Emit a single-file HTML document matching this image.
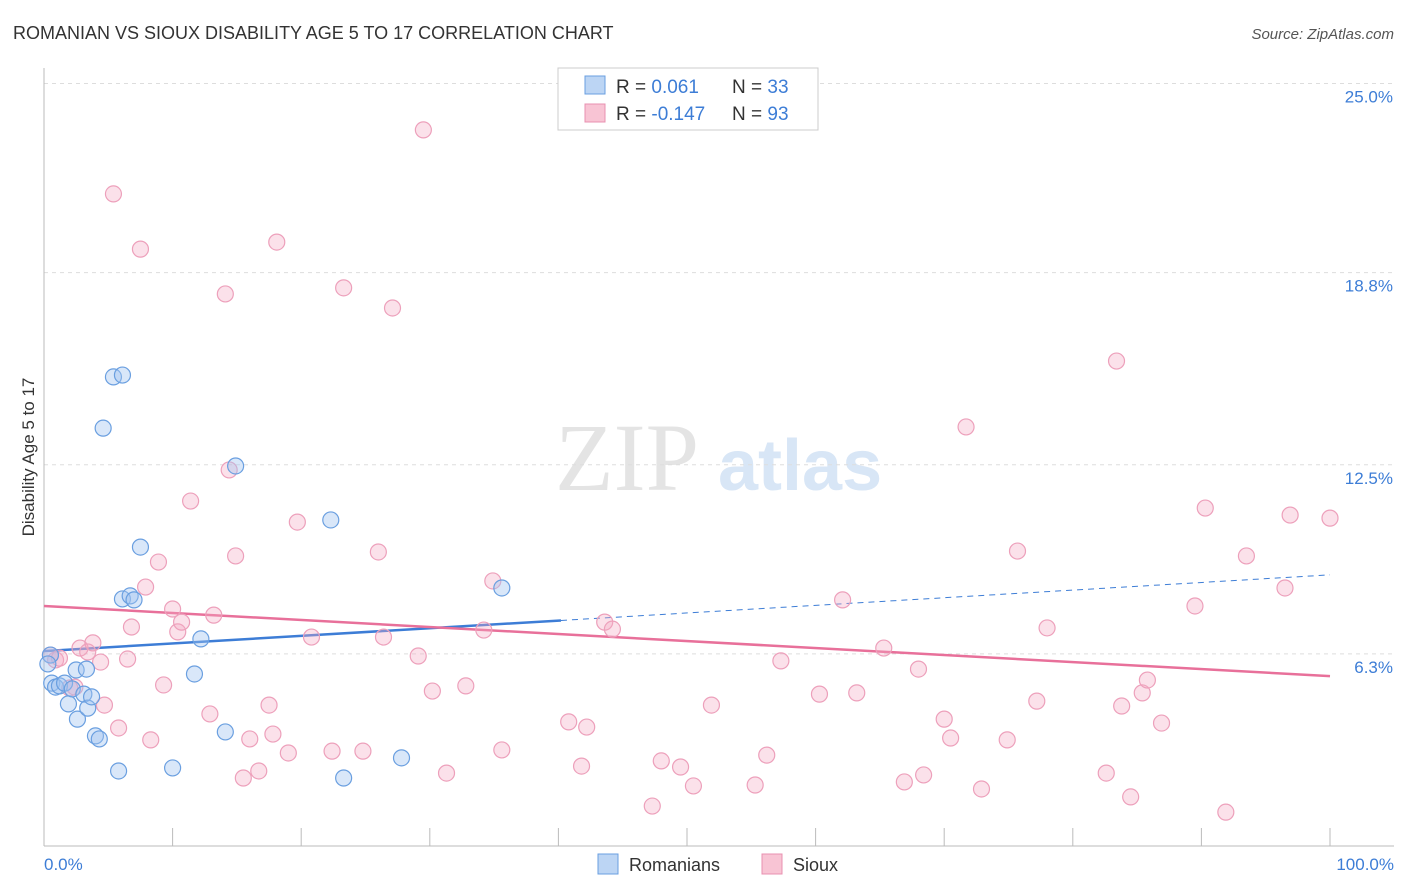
<!DOCTYPE html>
<html><head><meta charset="utf-8"><style>
body{margin:0;background:#fff;font-family:"Liberation Sans",sans-serif;}
#wrap{position:relative;width:1406px;height:892px;overflow:hidden;}
</style></head><body>
<div id="wrap">
<svg id="svg" width="1406" height="892" xmlns="http://www.w3.org/2000/svg">
<text x="13" y="39" font-size="18" fill="#333">ROMANIAN VS SIOUX DISABILITY AGE 5 TO 17 CORRELATION CHART</text>
<text x="1394" y="39" font-size="15" fill="#555" font-style="italic" text-anchor="end">Source: ZipAtlas.com</text>
<text x="555" y="490" font-size="96" fill="#e4e4e4" font-family="Liberation Serif">ZIP</text>
<text x="718" y="490" font-size="72" fill="#d8e6f6" font-weight="bold">atlas</text>
<text transform="translate(34,457) rotate(-90)" font-size="17" fill="#333" text-anchor="middle">Disability Age 5 to 17</text>
<g id="grid"></g><g id="axes"></g><g id="trend"></g><g id="pts"></g>
<g>
<rect x="558" y="68" width="260" height="62" fill="#fff" stroke="#ccc"/>
<rect x="585" y="76" width="20" height="18" fill="#bcd5f4" stroke="#6a9fe0"/>
<rect x="585" y="104" width="20" height="18" fill="#f8c4d4" stroke="#e890b0"/>
<text x="616" y="93" font-size="19" fill="#333">R = <tspan fill="#3d7dd6"> 0.061</tspan><tspan x="732">N = </tspan><tspan fill="#3d7dd6">33</tspan></text>
<text x="616" y="120" font-size="19" fill="#333">R = <tspan fill="#3d7dd6">-0.147</tspan><tspan x="732">N = </tspan><tspan fill="#3d7dd6">93</tspan></text>
</g>
<g>
<rect x="598" y="854" width="20" height="20" fill="#bcd5f4" stroke="#6a9fe0"/>
<text x="629" y="871" font-size="18" fill="#333">Romanians</text>
<rect x="762" y="854" width="20" height="20" fill="#f8c4d4" stroke="#e890b0"/>
<text x="793" y="871" font-size="18" fill="#333">Sioux</text>
</g>
</svg>
</div>
<script>
const yTicks=[25.0,18.8,12.5,6.3];
const yTickLabels=["25.0%","18.8%","12.5%","6.3%"];
const xTickLabels=["0.0%","100.0%"];
const blueX=[0.5,0.6,0.9,1.2,1.6,1.9,2.2,2.5,2.6,3.1,3.3,3.4,3.7,4.0,4.3,4.6,5.4,5.8,6.1,6.1,6.7,7.0,7.5,10.0,11.7,12.2,14.1,14.9,22.3,23.3,27.8,35.6,0.3];
const blueY=[6.26,5.34,5.21,5.25,5.34,4.66,5.15,5.77,4.16,4.98,5.80,4.52,4.89,3.61,3.51,13.70,15.38,2.46,15.44,8.10,8.20,8.07,9.80,2.56,5.64,6.79,3.74,12.46,10.69,2.23,2.89,8.46,5.97];
const pinkX=[0.5,0.9,1.2,2.0,2.4,2.8,3.4,3.8,4.4,4.7,5.4,5.8,6.5,6.8,7.5,7.9,8.3,8.9,9.3,10.0,10.4,10.7,11.4,12.9,13.2,14.1,14.4,14.9,15.5,16.0,16.7,17.5,17.8,18.1,19.0,19.7,20.8,22.4,23.3,24.8,26.0,26.4,27.1,29.1,29.5,30.2,31.3,32.8,34.2,34.9,35.6,40.8,41.8,42.2,43.6,44.2,47.3,48.0,49.5,50.5,51.9,55.3,56.2,57.3,60.3,62.1,63.2,65.3,66.9,68.0,68.4,70.0,70.5,71.7,72.9,74.9,75.7,77.2,78.0,82.6,83.4,83.8,84.5,85.4,85.8,86.9,89.5,90.3,91.9,93.5,96.5,96.9,100];
const pinkY=[6.26,6.10,6.16,5.18,5.21,6.49,6.36,6.66,6.03,4.62,21.38,3.87,6.13,7.18,19.57,8.49,3.48,9.31,5.28,7.77,7.02,7.34,11.31,4.33,7.57,18.10,12.33,9.51,2.23,3.51,2.46,4.62,3.67,19.80,3.05,10.62,6.85,3.11,18.30,3.11,9.64,6.85,17.64,6.23,23.48,5.08,2.39,5.25,7.08,8.69,3.15,4.07,2.62,3.90,7.34,7.11,1.31,2.79,2.59,1.97,4.62,2.00,2.98,6.07,4.98,8.07,5.02,6.49,2.10,5.80,2.33,4.16,3.54,13.74,1.87,3.48,9.67,4.75,7.15,2.39,15.90,4.59,1.61,5.02,5.44,4.03,7.87,11.08,1.11,9.51,8.46,10.85,10.75];
const blueTrend=[6.39,8.89], blueSolidEnd=40.2;
const pinkTrend=[7.87,5.57];
const X=v=>44+v*12.86, Y=v=>846-v*30.5;
const NS="http://www.w3.org/2000/svg";
function mk(t,a,p){const e=document.createElementNS(NS,t);for(const k in a)e.setAttribute(k,a[k]);p.appendChild(e);return e;}
const grid=document.getElementById('grid'),axes=document.getElementById('axes'),trend=document.getElementById('trend'),pts=document.getElementById('pts');
yTicks.forEach((t,i)=>{
 const l=mk('line',{x1:44,x2:1394,y1:Y(t),y2:Y(t),stroke:'#ddd','stroke-dasharray':'4,4'},grid);
 
 
 const tx=mk('text',{x:1393,y:Y(t)+19,'font-size':17,fill:'#3d7dd6','text-anchor':'end'},axes);
 tx.textContent=yTickLabels[i];
 
 
});
const ya=mk('line',{x1:44,x2:44,y1:68,y2:846,stroke:'#bbb'},axes);


const xa=mk('line',{x1:44,x2:1394,y1:846,y2:846,stroke:'#bbb'},axes);


for(let i=0;i<=10;i++){const tk=mk('line',{x1:X(i*10),x2:X(i*10),y1:828,y2:846,stroke:'#bbb'},axes);
 
 }
const x0=mk('text',{x:44,y:870,'font-size':17,fill:'#3d7dd6'},axes);x0.textContent=xTickLabels[0];


const x1=mk('text',{x:1394,y:870,'font-size':17,fill:'#3d7dd6','text-anchor':'end'},axes);x1.textContent=xTickLabels[1];


const bAt=x=>blueTrend[0]+(blueTrend[1]-blueTrend[0])*x/100;
const bt1=mk('line',{x1:X(0),y1:Y(bAt(0)),x2:X(blueSolidEnd),y2:Y(bAt(blueSolidEnd)),stroke:'#3d7dd6','stroke-width':2.5},trend);


const bt2=mk('line',{x1:X(blueSolidEnd),y1:Y(bAt(blueSolidEnd)),x2:X(100),y2:Y(bAt(100)),stroke:'#3d7dd6','stroke-width':1,'stroke-dasharray':'6,5'},trend);


const pt=mk('line',{x1:X(0),y1:Y(pinkTrend[0]),x2:X(100),y2:Y(pinkTrend[1]),stroke:'#e8709a','stroke-width':2.5},trend);


pinkX.forEach((x,i)=>{const c=mk('circle',{cx:X(x),cy:Y(pinkY[i]),r:8,fill:'rgba(244,170,196,0.35)',stroke:'#eda0bb','stroke-width':1.2},pts);
 
 });
blueX.forEach((x,i)=>{const c=mk('circle',{cx:X(x),cy:Y(blueY[i]),r:8,fill:'rgba(160,196,240,0.4)',stroke:'#6a9fe0','stroke-width':1.2},pts);
 
 });
</script>
</body></html>
